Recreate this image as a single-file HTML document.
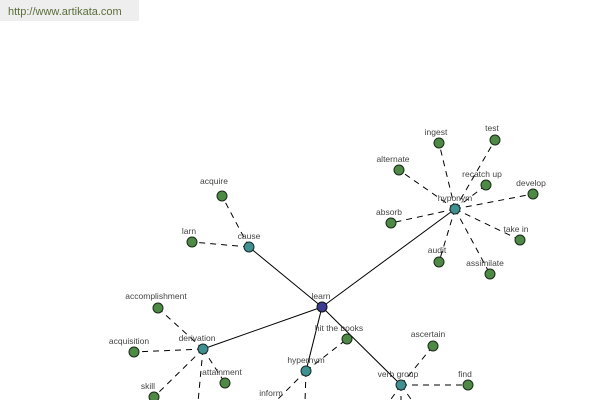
<!DOCTYPE html>
<html><head><meta charset="utf-8"><style>
html,body{margin:0;padding:0;width:600px;height:400px;overflow:hidden;background:#fff}
svg{display:block}
text{font-family:"Liberation Sans",sans-serif;font-size:8.5px;fill:#444;text-anchor:middle}
</style></head><body>
<svg width="600" height="400" viewBox="0 0 600 400" xmlns="http://www.w3.org/2000/svg">
<rect x="0" y="0" width="139" height="21" fill="#eeeeee"/>
<text x="8" y="15" style="text-anchor:start;font-size:11px;fill:#5a6e3a">http://www.artikata.com</text>
<g stroke="#000" stroke-width="1" fill="none">
<line x1="322" y1="307" x2="455" y2="209"/>
<line x1="322" y1="307" x2="249" y2="247"/>
<line x1="322" y1="307" x2="203" y2="349"/>
<line x1="322" y1="307" x2="306" y2="371"/>
<line x1="322" y1="307" x2="401" y2="385"/>
</g>
<g stroke="#000" stroke-width="1" stroke-dasharray="6,5" fill="none">
<line x1="455" y1="209" x2="439" y2="143"/>
<line x1="455" y1="209" x2="495" y2="140"/>
<line x1="455" y1="209" x2="399" y2="170"/>
<line x1="455" y1="209" x2="486" y2="185"/>
<line x1="455" y1="209" x2="533" y2="194"/>
<line x1="455" y1="209" x2="391" y2="223"/>
<line x1="455" y1="209" x2="520" y2="240"/>
<line x1="455" y1="209" x2="439" y2="262"/>
<line x1="455" y1="209" x2="490" y2="274"/>
<line x1="249" y1="247" x2="222" y2="196"/>
<line x1="249" y1="247" x2="192" y2="242"/>
<line x1="203" y1="349" x2="158" y2="308"/>
<line x1="203" y1="349" x2="134" y2="352"/>
<line x1="203" y1="349" x2="225" y2="383"/>
<line x1="203" y1="349" x2="154" y2="397"/>
<line x1="203" y1="349" x2="198" y2="402"/>
<line x1="306" y1="371" x2="347" y2="339"/>
<line x1="306" y1="371" x2="275" y2="402"/>
<line x1="306" y1="371" x2="305" y2="402"/>
<line x1="401" y1="385" x2="433" y2="346"/>
<line x1="401" y1="385" x2="468" y2="385"/>
<line x1="401" y1="385" x2="389" y2="402"/>
<line x1="401" y1="385" x2="401" y2="402"/>
<line x1="401" y1="385" x2="413" y2="402"/>
</g>
<g stroke="#1a2a1a" stroke-width="1" fill="#4e8a45">
<circle cx="439" cy="143" r="5"/><circle cx="495" cy="140" r="5"/>
<circle cx="399" cy="170" r="5"/><circle cx="486" cy="185" r="5"/>
<circle cx="533" cy="194" r="5"/><circle cx="391" cy="223" r="5"/>
<circle cx="520" cy="240" r="5"/><circle cx="439" cy="262" r="5"/>
<circle cx="490" cy="274" r="5"/><circle cx="222" cy="196" r="5"/>
<circle cx="192" cy="242" r="5"/><circle cx="158" cy="308" r="5"/>
<circle cx="134" cy="352" r="5"/><circle cx="225" cy="383" r="5"/>
<circle cx="154" cy="397" r="5"/><circle cx="347" cy="339" r="5"/>
<circle cx="433" cy="346" r="5"/><circle cx="468" cy="385" r="5"/>
</g>
<g stroke="#1a2a2a" stroke-width="1" fill="#3f9090">
<circle cx="455" cy="209" r="5"/><circle cx="249" cy="247" r="5"/>
<circle cx="203" cy="349" r="5"/><circle cx="306" cy="371" r="5"/>
<circle cx="401" cy="385" r="5"/>
</g>
<circle cx="322" cy="307" r="5" fill="#3b3b8f" stroke="#111"/>
<text x="436" y="135">ingest</text><text x="492" y="131">test</text>
<text x="393" y="162">alternate</text><text x="482" y="177">recatch up</text>
<text x="531" y="186">develop</text><text x="389" y="215">absorb</text>
<text x="516" y="232">take in</text><text x="437" y="253">audit</text>
<text x="485" y="266">assimilate</text><text x="455" y="201">hyponym</text>
<text x="214" y="184">acquire</text><text x="189" y="234">larn</text>
<text x="249" y="239">cause</text><text x="321" y="299">learn</text>
<text x="156" y="299">accomplishment</text><text x="129" y="344">acquisition</text>
<text x="197" y="341">derivation</text><text x="222" y="375">attainment</text>
<text x="148" y="389">skill</text><text x="339" y="331">hit the books</text>
<text x="306" y="363">hypernym</text><text x="271" y="396">inform</text>
<text x="428" y="337">ascertain</text><text x="398" y="377">verb group</text>
<text x="465" y="377">find</text>
</svg>
</body></html>
